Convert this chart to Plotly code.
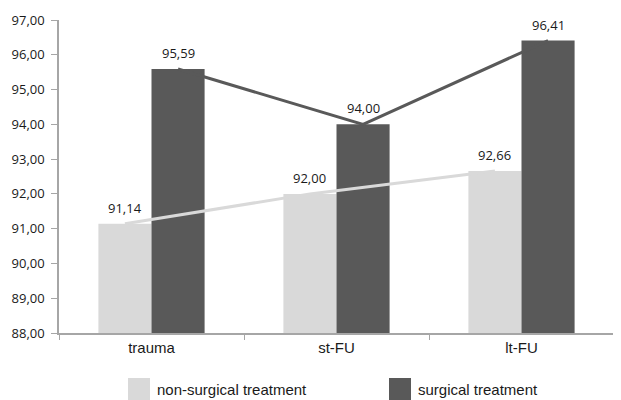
import plotly.graph_objects as go

categories = ["trauma", "st-FU", "lt-FU"]
non_surgical = [91.14, 92.00, 92.66]
surgical = [95.59, 94.00, 96.41]
series_names = ["non-surgical treatment", "surgical treatment"]
y_ticks = [88, 89, 90, 91, 92, 93, 94, 95, 96, 97]

LIGHT = "#d9d9d9"
DARK = "#595959"
AXIS = "#a6a6a6"
TXT = "#1a1a1a"
BW = 0.287

def fmt(v):
    return f"{v:.2f}".replace(".", ",")

# the page body adds an 8px offset; figure coordinates below account for it
FW, FH = 613, 392
L, T = 51, 12
R = FW - 606
B = FH - 325
W, H = FW - L - R, FH - T - B

fig = go.Figure()
fig.add_trace(go.Bar(x=categories, y=non_surgical, width=BW, offset=-BW,
                     marker=dict(color=LIGHT, line=dict(width=0)), name=series_names[0],
                     showlegend=False))
fig.add_trace(go.Bar(x=categories, y=surgical, width=BW, offset=0,
                     marker=dict(color=DARK, line=dict(width=0)), name=series_names[1],
                     showlegend=False))

idx = list(range(len(categories)))
fig.add_trace(go.Scatter(x=[i - BW / 2 for i in idx], y=non_surgical, mode="lines",
                         line=dict(color=LIGHT, width=3), xaxis="x2", showlegend=False,
                         hoverinfo="skip"))
fig.add_trace(go.Scatter(x=[i + BW / 2 for i in idx], y=surgical, mode="lines",
                         line=dict(color=DARK, width=3), xaxis="x2", showlegend=False,
                         hoverinfo="skip"))

annotations = []
for i, (a, b) in enumerate(zip(non_surgical, surgical)):
    for val, dx in ((a, -BW / 2), (b, BW / 2)):
        annotations.append(dict(x=i + dx, y=val, xref="x2", yref="y", text=fmt(val),
                                showarrow=False, yshift=16,
                                font=dict(family="Open Sans", size=13, color=TXT)))

# custom legend (pixel positions in figure coordinates)
shapes = []
legend_items = [(series_names[0], LIGHT, 120), (series_names[1], DARK, 381)]
for name, col, px in legend_items:
    shapes.append(dict(type="rect", xref="paper", yref="paper",
                       x0=(px - L) / W, x1=(px + 22 - L) / W,
                       y0=(325 - 370) / H, y1=(325 - 392) / H,
                       fillcolor=col, line=dict(width=0)))
    annotations.append(dict(x=(px + 27 - L) / W, y=(325 - 381) / H, xref="paper", yref="paper",
                            text=name, showarrow=False, xanchor="left", yanchor="middle",
                            font=dict(family="Liberation Sans", size=15, color=TXT)))

fig.update_layout(
    width=FW, height=FH,
    margin=dict(l=L, r=R, t=T, b=B, autoexpand=False),
    plot_bgcolor="white", paper_bgcolor="white",
    barmode="overlay",
    showlegend=False,
    xaxis=dict(type="category", range=[-0.5, 2.5], showgrid=False, showline=True,
               linecolor=AXIS, linewidth=1.5, ticks="outside", tickson="boundaries",
               ticklen=5, tickcolor=AXIS, automargin=False,
               tickfont=dict(family="Liberation Sans", size=15, color=TXT)),
    xaxis2=dict(overlaying="x", range=[-0.5, 2.5], visible=False),
    yaxis=dict(range=[88, 97], tickvals=y_ticks, ticktext=[fmt(v) for v in y_ticks],
               showgrid=False, showline=True, linecolor=AXIS, linewidth=1.5,
               ticks="outside", ticklen=6, tickcolor=AXIS, zeroline=False,
               ticklabelstandoff=4, automargin=False,
               tickfont=dict(family="Open Sans", size=13, color=TXT)),
    annotations=annotations,
    shapes=shapes,
)

fig.write_html("out.html")
